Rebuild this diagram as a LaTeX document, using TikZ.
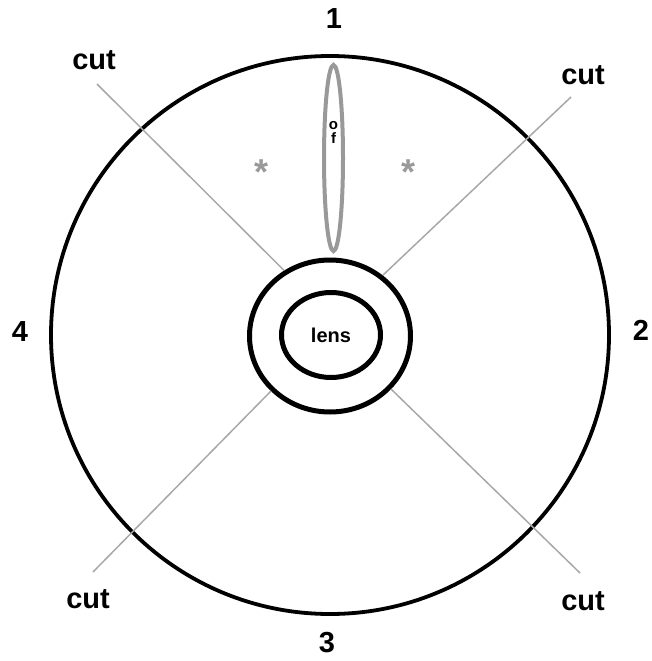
\documentclass[tikz,border=0pt]{standalone}
\usepackage{fontspec}
\setmainfont{Liberation Sans}
\usepackage{xcolor}
\usetikzlibrary{shapes.geometric, positioning}

\definecolor{cutgray}{HTML}{A8A8A8}
\definecolor{fibgray}{HTML}{999999}

\begin{document}
\begin{tikzpicture}[
  x=1pt, y=-1pt,
  eyeball/.style={circle, draw, line width=3.8pt, minimum size=558pt, inner sep=0pt},
  ringline/.style={ellipse, draw, line width=5pt, inner sep=0pt},
  fibre/.style={ellipse, draw=fibgray, line width=4pt, inner sep=0pt,
    minimum width=19pt, minimum height=186pt},
  cutline/.style={draw=cutgray, line width=1.5pt},
  biglabel/.style={font=\fontsize{29}{30}\bfseries\selectfont, inner sep=0pt},
  star/.style={font=\fontsize{36}{36}\bfseries\selectfont, text=fibgray, inner sep=0pt}
]
\useasboundingbox (0,0) rectangle (652,661);

% Nodes
\node[eyeball] (eye) at (330,335) {};
\node[ringline, minimum width=161pt, minimum height=152pt] (ring) at (330,336) {};
\node[ringline, minimum width=99pt, minimum height=85pt,
  font=\fontsize{20}{20}\bfseries\selectfont] (lens) at (331,335) {lens};
\node[fibre] (fib) at (333.5,158) {};
\node[font=\fontsize{15}{14}\bfseries\selectfont, align=center, inner sep=0pt]
  (of) at (333.5,132) {o\\f};
\node[star] (astl) at (262,172) {*};
\node[star] (astr) at (408,172) {*};

% Position labels
\node[biglabel] (p1) at (334,19) {1};
\node[biglabel] (p2) at (641,330) {2};
\node[biglabel] (p3) at (327,643) {3};
\node[biglabel] (p4) at (20,332) {4};

% Cut labels
\node[biglabel] (cuttl) at (94,60) {cut};
\node[biglabel] (cuttr) at (583,75) {cut};
\node[biglabel] (cutbl) at (88,599) {cut};
\node[biglabel] (cutbr) at (583,601) {cut};

% Cut lines
\coordinate (tl) at (97,84);
\coordinate (tr) at (571,97);
\coordinate (bl) at (93,572);
\coordinate (br) at (580,573);
\draw[cutline] (tl) -- (ring.125);
\draw[cutline] (tr) -- (ring.49);
\draw[cutline] (bl) -- (ring.223);
\draw[cutline] (br) -- (ring.319);

\end{tikzpicture}
\end{document}
